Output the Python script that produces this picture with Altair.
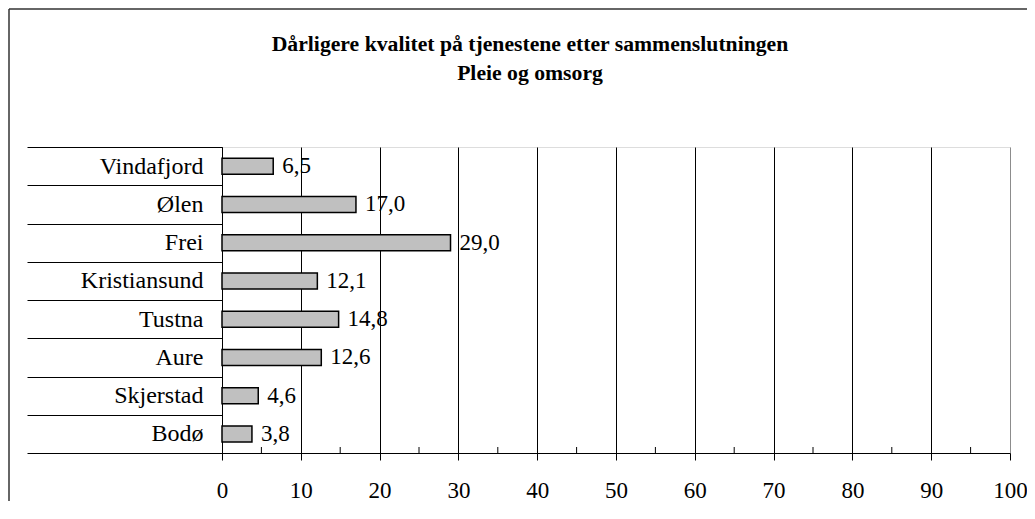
import altair as alt
import pandas as pd

categories = ["Vindafjord", "Ølen", "Frei", "Kristiansund", "Tustna", "Aure", "Skjerstad", "Bodø"]
values = [6.5, 17.0, 29.0, 12.1, 14.8, 12.6, 4.6, 3.8]
x_ticks = [0, 10, 20, 30, 40, 50, 60, 70, 80, 90, 100]
minor_ticks = [5, 15, 25, 35, 45, 55, 65, 75, 85, 95]
title_lines = ["Dårligere kvalitet på tjenestene etter sammenslutningen", "Pleie og omsorg"]

df = pd.DataFrame({
    "kommune": categories,
    "verdi": values,
    "label": [f"{v:.1f}".replace(".", ",") for v in values],
})
df_minor = pd.DataFrame({"verdi": minor_ticks})

FONT = '"Liberation Serif", "Times New Roman", "DejaVu Serif", serif'
W, H = 788, 306
PAD_B = 48
PAD_R = 17

x_axis = alt.Axis(
    values=x_ticks, title=None, grid=True,
    gridColor={"condition": {"test": "datum.value >= 100", "value": "#8c8c8c"}, "value": "black"},
    gridWidth=1, domainColor="black", tickColor="black", tickSize=7,
    labelFont=FONT, labelFontSize=23, labelColor="black", labelPadding=19,
    labelFlush=False,
)
x_scale = alt.Scale(domain=[0, 100], nice=False, zero=True)
y_axis = alt.Axis(
    title=None, tickBand="extent", tickSize=195, tickColor="black",
    domainColor="black", labelPadding=-176, labelFont=FONT, labelFontSize=24,
    labelColor="black", labelAlign="right", grid=False,
)
y_enc = alt.Y("kommune:N", sort=categories,
              scale=alt.Scale(paddingInner=0, paddingOuter=0), axis=y_axis)

bars = alt.Chart(df).mark_bar(
    fill="#c0c0c0", stroke="black", strokeWidth=1.5, size=16
).encode(
    x=alt.X("verdi:Q", scale=x_scale, axis=x_axis),
    y=y_enc,
)
labels = alt.Chart(df).mark_text(
    align="left", baseline="middle", dx=9, font=FONT, fontSize=23, color="black"
).encode(
    x=alt.X("verdi:Q", scale=x_scale, axis=x_axis),
    y=y_enc,
    text="label:N",
)
minor = alt.Chart(df_minor).mark_rule(color="black", strokeWidth=1).encode(
    x=alt.X("verdi:Q", scale=x_scale, axis=x_axis),
    y=alt.value(H - 6),
    y2=alt.value(H),
)
one = alt.Data(values=[{"a": 1}])
border_top = alt.Chart(one).mark_rule(color="#333333", strokeWidth=1.5).encode(
    x=alt.value(-213), x2=alt.value(W + PAD_R), y=alt.value(-138)
)
border_left = alt.Chart(one).mark_rule(color="#333333", strokeWidth=1.5).encode(
    x=alt.value(-213), y=alt.value(-138), y2=alt.value(H + PAD_B)
)

chart = alt.layer(bars, labels, minor, border_top, border_left).properties(
    width=W, height=H,
    padding={"left": 214, "top": 139, "right": PAD_R, "bottom": PAD_B},
    autosize=alt.AutoSizeParams(type="none"),
    title=alt.TitleParams(
        text=title_lines, font=FONT, fontSize=21.7, fontWeight="bold", color="black",
        anchor="middle", dx=-86, offset=-76, lineHeight=29,
    ),
).configure_view(stroke="#8c8c8c", strokeWidth=1.5).configure(background="white")

chart.save("out.html", embed_options={"renderer": "svg", "actions": False})
